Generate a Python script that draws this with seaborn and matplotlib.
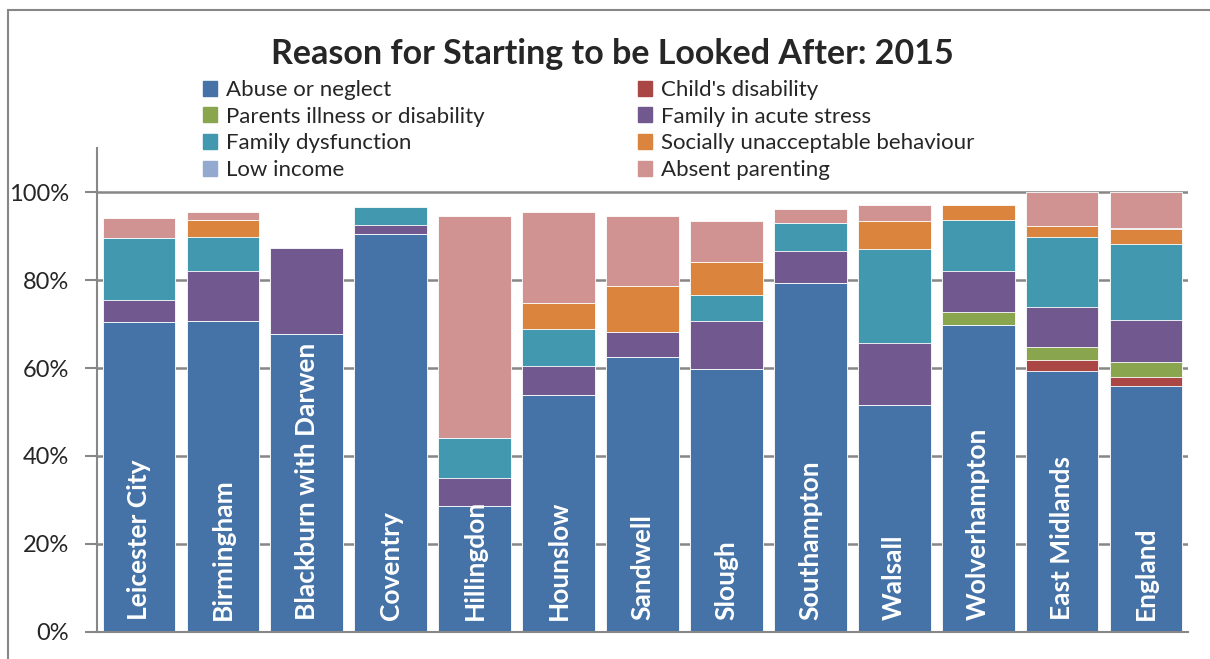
import matplotlib
matplotlib.use("Agg")
import matplotlib.pyplot as plt
import matplotlib.patches as mpatches
import numpy as np
import pandas as pd
import seaborn as sns

# Share of children starting to be looked after, by reason (%)
regions = ["Leicester City", "Birmingham", "Blackburn with Darwen", "Coventry",
           "Hillingdon", "Hounslow", "Sandwell", "Slough", "Southampton",
           "Walsall", "Wolverhampton", "East Midlands", "England"]

abuse_or_neglect = [70.4, 70.7, 67.7, 90.5, 28.6, 53.9, 62.4, 59.7, 79.4, 51.5, 69.7, 59.4, 56.0]
childs_disability = [0, 0, 0, 0, 0, 0, 0, 0, 0, 0, 0, 2.5, 2.0]
parents_illness = [0, 0, 0, 0, 0, 0, 0, 0, 0, 0, 3.0, 2.9, 3.3]
family_acute_stress = [5.0, 11.3, 19.5, 1.9, 6.5, 6.5, 5.7, 10.9, 7.1, 14.1, 9.3, 9.0, 9.5]
family_dysfunction = [14.1, 7.8, 0, 4.1, 9.1, 8.4, 0, 5.9, 6.4, 21.4, 11.6, 15.9, 17.3]
socially_unacceptable = [0, 3.9, 0, 0, 0, 5.9, 10.5, 7.5, 0, 6.3, 3.4, 2.5, 3.5]
low_income = [0, 0, 0, 0, 0, 0, 0, 0, 0, 0, 0, 0, 0.3]
absent_parenting = [4.7, 1.8, 0, 0, 50.3, 20.8, 15.9, 9.3, 3.3, 3.7, 0, 7.8, 8.1]

series_names = ["Abuse or neglect", "Child's disability", "Parents illness or disability",
                "Family in acute stress", "Family dysfunction",
                "Socially unacceptable behaviour", "Low income", "Absent parenting"]
series_values = [abuse_or_neglect, childs_disability, parents_illness, family_acute_stress,
                 family_dysfunction, socially_unacceptable, low_income, absent_parenting]
series_colors = ["#4572A7", "#AA4643", "#89A54E", "#71588F",
                 "#4198AF", "#DB843D", "#93A9CF", "#D19392"]

FONT = ["Lato", "DejaVu Sans"]

sns.set_theme(style="white")
plt.rcParams["font.family"] = FONT

fig = plt.figure(figsize=(12.1, 6.59), dpi=100)
W, H = 1210, 659
ax = fig.add_axes([97 / W, 27 / H, (1188 - 97) / W, (632 - 148) / H])

# Stacked bars: draw cumulative totals from the top layer down
df = pd.DataFrame({"region": regions})
cum = np.cumsum(np.array(series_values, dtype=float), axis=0)
for k in range(len(series_names) - 1, -1, -1):
    df["total"] = cum[k]
    sns.barplot(data=df, x="region", y="total", color=series_colors[k],
                saturation=1, width=0.867, errorbar=None, ax=ax,
                edgecolor="white", linewidth=0.6, zorder=2)

ax.set_ylim(0, 110)
ax.set_xlim(-0.5, len(regions) - 0.5)
ax.set_yticks([0, 20, 40, 60, 80, 100])
ax.set_yticklabels([f"{v}%" for v in [0, 20, 40, 60, 80, 100]], fontsize=17)
ax.set_xlabel("")
ax.set_ylabel("")
ax.set_xticks([])
for y in [20, 40, 60, 80, 100]:
    ax.axhline(y, color="#878787", lw=1.8, zorder=1)
for s in ["top", "right"]:
    ax.spines[s].set_visible(False)
for s in ["left", "bottom"]:
    ax.spines[s].set_color("#878787")
    ax.spines[s].set_linewidth(1.5)
ax.tick_params(axis="y", direction="out", length=9, width=1.5, color="#878787",
               pad=11, left=True)

# Region names written up the bars
for i, name in enumerate(regions):
    ax.text(i, 2.7, name, rotation=90, ha="center", va="bottom", color="white",
            fontsize=19, fontweight="bold", zorder=5)

fig.text(612 / W, 1 - 54 / H, "Reason for Starting to be Looked After: 2015",
         ha="center", va="center", fontsize=24.5, fontweight="bold")

# Legend in two columns, read row by row
handles = [mpatches.Patch(color=c, label=n) for n, c in zip(series_names, series_colors)]
leg_kw = dict(loc="upper left", frameon=False, fontsize=16, handlelength=0.65,
              handleheight=0.65, handletextpad=0.4, labelspacing=0.3,
              borderpad=0, borderaxespad=0)
leg1 = fig.legend(handles=handles[0::2], bbox_to_anchor=(203 / W, 1 - 80 / H), **leg_kw)
leg2 = fig.legend(handles=handles[1::2], bbox_to_anchor=(638 / W, 1 - 80 / H), **leg_kw)

# Chart border
fig.patches.append(mpatches.Rectangle((8 / W, -0.1), 1.2, 1 - 10 / H + 0.1,
                                      transform=fig.transFigure, fill=False,
                                      edgecolor="#878787", lw=1.5))

fig.savefig("out.png", dpi=100)
